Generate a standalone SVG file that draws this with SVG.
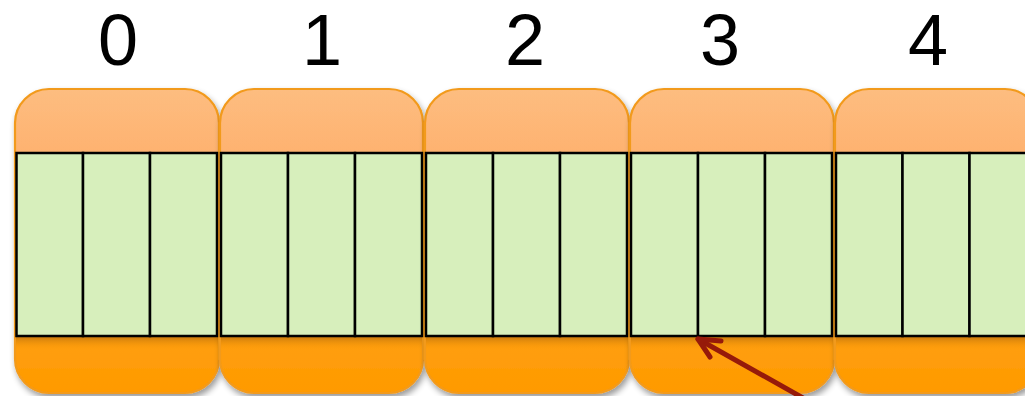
<svg xmlns="http://www.w3.org/2000/svg" width="1025" height="396" viewBox="0 0 1025 396">
  <style>
    .label { font-family: "Liberation Sans", Arial, sans-serif; font-size: 72px; fill: #000; text-anchor: middle; }
    .block { fill: url(#blockFill); stroke: #F29A1C; stroke-width: 2.2; filter: url(#softShadow); }
    .cell { fill: #D7EFBC; stroke: #000; stroke-width: 2.5; }
    .under { fill: url(#underShade); }
    .pointer { stroke: #961A0A; stroke-width: 5; fill: none; stroke-linecap: round; stroke-linejoin: round; }
  </style>
  <defs>
    <linearGradient id="blockFill" x1="0" y1="0" x2="0" y2="1">
      <stop offset="0" stop-color="#FDBD80"/>
      <stop offset="0.21" stop-color="#FEB270"/>
      <stop offset="0.8" stop-color="#FF9F10"/>
      <stop offset="1" stop-color="#FF9A00"/>
    </linearGradient>
    <linearGradient id="underShade" x1="0" y1="0" x2="0" y2="1">
      <stop offset="0" stop-color="#9A5C10" stop-opacity="0.6"/>
      <stop offset="1" stop-color="#FF9A00" stop-opacity="0"/>
    </linearGradient>
    <filter id="softShadow" x="-10%" y="-10%" width="125%" height="125%">
      <feGaussianBlur in="SourceAlpha" stdDeviation="3"/>
      <feOffset dx="2" dy="4" result="blur"/>
      <feComponentTransfer><feFuncA type="linear" slope="0.4"/></feComponentTransfer>
      <feMerge><feMergeNode/><feMergeNode in="SourceGraphic"/></feMerge>
    </filter>
  </defs>

  <!-- block 0 -->
  <g id="block0">
    <rect class="block" x="15" y="89" width="204" height="304" rx="34"/>
    <rect class="under" x="16" y="336" width="202" height="14"/>
    <rect class="cell" x="16.5" y="153" width="66.5" height="183"/>
    <rect class="cell" x="83" y="153" width="67" height="183"/>
    <rect class="cell" x="150" y="153" width="67" height="183"/>
    <text class="label" x="118" y="65">0</text>
  </g>

  <!-- block 1 -->
  <g id="block1">
    <rect class="block" x="220" y="89" width="203" height="304" rx="34"/>
    <rect class="under" x="221" y="336" width="201" height="14"/>
    <rect class="cell" x="221" y="153" width="67" height="183"/>
    <rect class="cell" x="288" y="153" width="67" height="183"/>
    <rect class="cell" x="355" y="153" width="67" height="183"/>
    <text class="label" x="322" y="65">1</text>
  </g>

  <!-- block 2 -->
  <g id="block2">
    <rect class="block" x="425" y="89" width="204" height="304" rx="34"/>
    <rect class="under" x="426" y="336" width="202" height="14"/>
    <rect class="cell" x="426" y="153" width="67" height="183"/>
    <rect class="cell" x="493" y="153" width="67" height="183"/>
    <rect class="cell" x="560" y="153" width="67" height="183"/>
    <text class="label" x="525" y="65">2</text>
  </g>

  <!-- block 3 -->
  <g id="block3">
    <rect class="block" x="630" y="89" width="204" height="304" rx="34"/>
    <rect class="under" x="631" y="336" width="202" height="14"/>
    <rect class="cell" x="631" y="153" width="67" height="183"/>
    <rect class="cell" x="698" y="153" width="67" height="183"/>
    <rect class="cell" x="765" y="153" width="67" height="183"/>
    <text class="label" x="720" y="65">3</text>
  </g>

  <!-- block 4 (continues past the right edge) -->
  <g id="block4">
    <rect class="block" x="835" y="89" width="204" height="304" rx="34"/>
    <rect class="under" x="836" y="336" width="202" height="14"/>
    <rect class="cell" x="836" y="153" width="66.5" height="183"/>
    <rect class="cell" x="902.5" y="153" width="67" height="183"/>
    <rect class="cell" x="969.5" y="153" width="67" height="183"/>
    <text class="label" x="928" y="65">4</text>
  </g>

  <!-- connectors -->
  <g id="connectors">
    <line class="pointer" x1="812" y1="403" x2="698" y2="339"/>
    <polyline class="pointer" points="721,341 698,339 710,357"/>
  </g>
</svg>
